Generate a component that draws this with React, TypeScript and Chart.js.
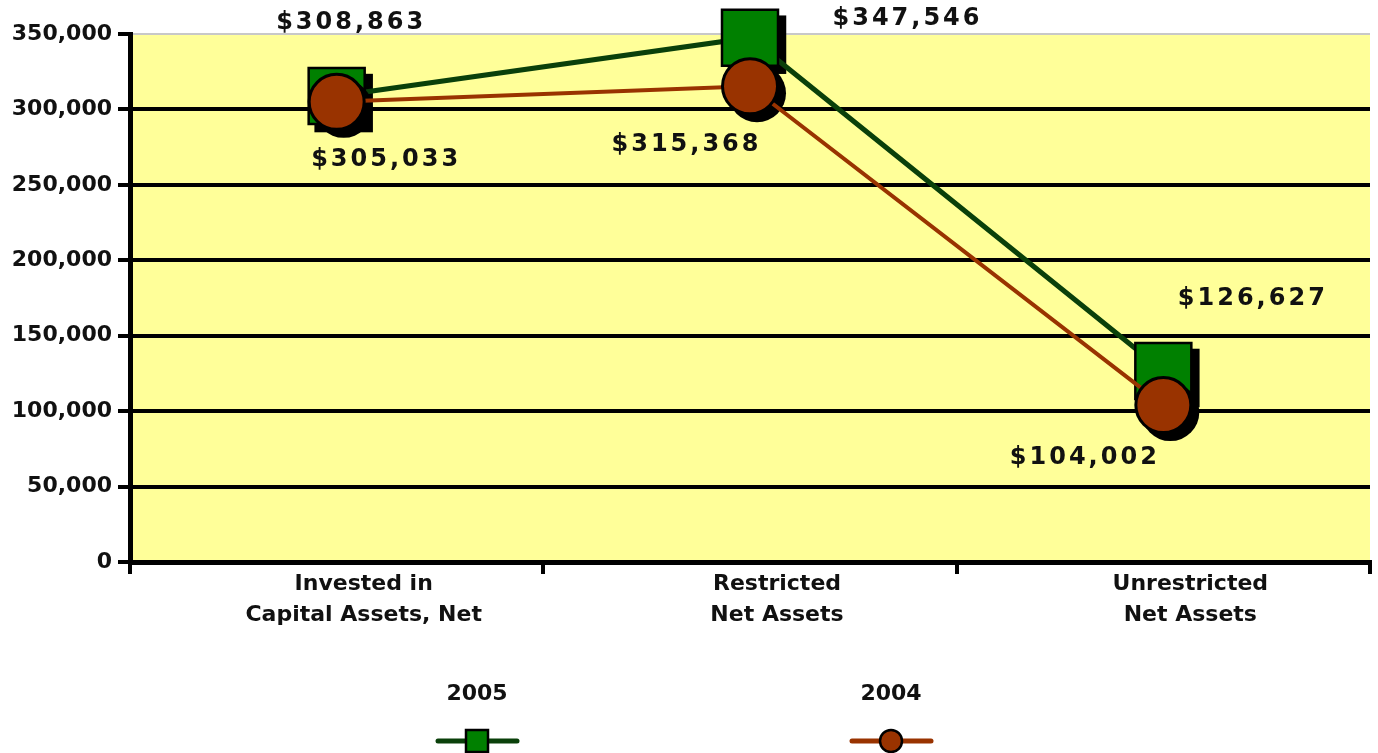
import React, { useEffect, useRef } from "react";
import { Chart, registerables } from "chart.js";

Chart.register(...registerables);

const categories: string[][] = [
  ["Invested in", "Capital Assets, Net"],
  ["Restricted", "Net Assets"],
  ["Unrestricted", "Net Assets"],
];
const seriesNames = ["2005", "2004"];
const values2005 = [308863, 347546, 126627];
const values2004 = [305033, 315368, 104002];
const yMin = 0;
const yMax = 350000;
const yStep = 50000;

const FONT = "'DejaVu Sans', Verdana, sans-serif";

// label offsets from their point (pixels), per series
const labelOffsets: number[][][] = [
  [[13, -73], [156, -19], [88, -72]],
  [[48, 58], [-65, 59], [-80, 53]],
];

const bgPlugin = {
  id: "plotBg",
  beforeDraw(chart: any) {
    const { ctx, chartArea } = chart;
    ctx.save();
    ctx.fillStyle = "#FFFF99";
    ctx.fillRect(chartArea.left, chartArea.top, chartArea.right - chartArea.left, chartArea.bottom - chartArea.top);
    ctx.restore();
  },
};

const shadowPlugin = {
  id: "markerShadow",
  beforeDatasetDraw(chart: any, args: any) {
    const { ctx } = chart;
    const meta = args.meta;
    const ds = chart.data.datasets[args.index];
    ctx.save();
    ctx.fillStyle = "#000";
    const off = 7;
    meta.data.forEach((el: any) => {
      const r = ds.pointRadius;
      const bw = ds.pointBorderWidth || 0;
      if (ds.pointStyle === "rect") {
        const s = Math.SQRT1_2 * r + bw / 2;
        ctx.fillRect(el.x - s + off, el.y - s + off, 2 * s, 2 * s);
      } else {
        ctx.beginPath();
        ctx.arc(el.x + off, el.y + off, r + bw / 2, 0, Math.PI * 2);
        ctx.fill();
      }
    });
    ctx.restore();
  },
};

const labelPlugin = {
  id: "valueLabels",
  afterDatasetsDraw(chart: any) {
    const { ctx } = chart;
    ctx.save();
    ctx.font = `bold 24px ${FONT}`;
    ctx.fillStyle = "#111";
    ctx.textAlign = "center";
    ctx.textBaseline = "middle";
    (ctx as any).letterSpacing = "3px";
    chart.data.datasets.forEach((ds: any, i: number) => {
      const meta = chart.getDatasetMeta(i);
      meta.data.forEach((el: any, j: number) => {
        const v = ds.data[j] as number;
        const o = labelOffsets[i][j];
        ctx.fillText("$" + v.toLocaleString("en-US"), el.x + o[0] + 1.5, el.y + o[1]);
      });
    });
    ctx.restore();
  },
};

const legendPlugin = {
  id: "customLegend",
  afterDraw(chart: any) {
    const { ctx } = chart;
    const centers = [477, 891];
    const textY = 694;
    const lineY = 741;
    ctx.save();
    chart.data.datasets.forEach((ds: any, i: number) => {
      const cx = centers[i];
      ctx.font = `bold 22px ${FONT}`;
      ctx.fillStyle = "#111";
      ctx.textAlign = "center";
      ctx.textBaseline = "middle";
      ctx.fillText(seriesNames[i], cx, textY);
      ctx.strokeStyle = ds.borderColor;
      ctx.lineWidth = 5;
      ctx.lineCap = "round";
      ctx.beginPath();
      ctx.moveTo(cx - 39, lineY);
      ctx.lineTo(cx + 40, lineY);
      ctx.stroke();
      ctx.fillStyle = ds.pointBackgroundColor;
      ctx.strokeStyle = "#000";
      ctx.lineWidth = 2.5;
      if (ds.pointStyle === "rect") {
        ctx.fillRect(cx - 11, lineY - 11, 22, 22);
        ctx.strokeRect(cx - 11, lineY - 11, 22, 22);
      } else {
        ctx.beginPath();
        ctx.arc(cx, lineY, 11, 0, Math.PI * 2);
        ctx.fill();
        ctx.stroke();
      }
    });
    ctx.restore();
  },
};

export default function App() {
  const ref = useRef<HTMLCanvasElement | null>(null);

  useEffect(() => {
    if (!ref.current) return;
    const chart = new Chart(ref.current, {
      type: "line",
      data: {
        labels: categories,
        datasets: [
          {
            label: seriesNames[0],
            data: values2005,
            borderColor: "#0a400a",
            borderWidth: 5,
            pointStyle: "rect",
            pointRadius: 39.6,
            pointBackgroundColor: "#008000",
            pointBorderColor: "#000",
            pointBorderWidth: 2.5,
            order: 2,
            tension: 0,
            clip: false,
          } as any,
          {
            label: seriesNames[1],
            data: values2004,
            borderColor: "#993300",
            borderWidth: 4,
            pointStyle: "circle",
            pointRadius: 27.5,
            pointBackgroundColor: "#993300",
            pointBorderColor: "#000",
            pointBorderWidth: 3,
            order: 1,
            tension: 0,
            clip: false,
          } as any,
        ],
      },
      options: {
        responsive: false,
        animation: false,
        events: [],
        layout: { autoPadding: false, padding: { top: 34, right: 8, left: 0, bottom: 0 } },
        plugins: {
          legend: { display: false },
          tooltip: { enabled: false },
        },
        scales: {
          x: {
            offset: true,
            grid: {
              offset: true,
              drawOnChartArea: false,
              drawTicks: true,
              tickLength: 12,
              color: "#000",
              lineWidth: 4,
            },
            border: { color: "#000", width: 5 },
            ticks: {
              color: "#111",
              font: { family: FONT, size: 22, weight: "bold", lineHeight: 1.4 },
              padding: -5,
              labelOffset: 27,
              maxRotation: 0,
              autoSkip: false,
            },
            afterFit: (s: any) => {
              s.height = 191;
              s.paddingLeft = 0;
              s.paddingRight = 0;
            },
          },
          y: {
            min: yMin,
            max: yMax,
            ticks: {
              stepSize: yStep,
              color: "#111",
              padding: 6,
              font: { family: FONT, size: 22, weight: "bold" },
              callback: (v: any) => Number(v).toLocaleString("en-US"),
            },
            grid: {
              color: (c: any) => (c.tick && c.tick.value === yMax ? "#c8c8c8" : "#000"),
              lineWidth: (c: any) => (c.tick && c.tick.value === yMax ? 2 : 4),
              tickColor: "#000",
              tickWidth: 4,
              tickLength: 12,
            },
            border: { color: "#000", width: 5 },
            afterFit: (s: any) => {
              s.width = 130;
              s.paddingTop = 0;
              s.paddingBottom = 0;
            },
          },
        },
      } as any,
      plugins: [bgPlugin, shadowPlugin, labelPlugin, legendPlugin],
    });
    return () => chart.destroy();
  }, []);

  return (
    <div style={{ position: "fixed", left: 0, top: 0, width: 1378, height: 753, background: "#fff" }}>
      <canvas ref={ref} width={1378} height={753} style={{ display: "block" }} />
    </div>
  );
}
